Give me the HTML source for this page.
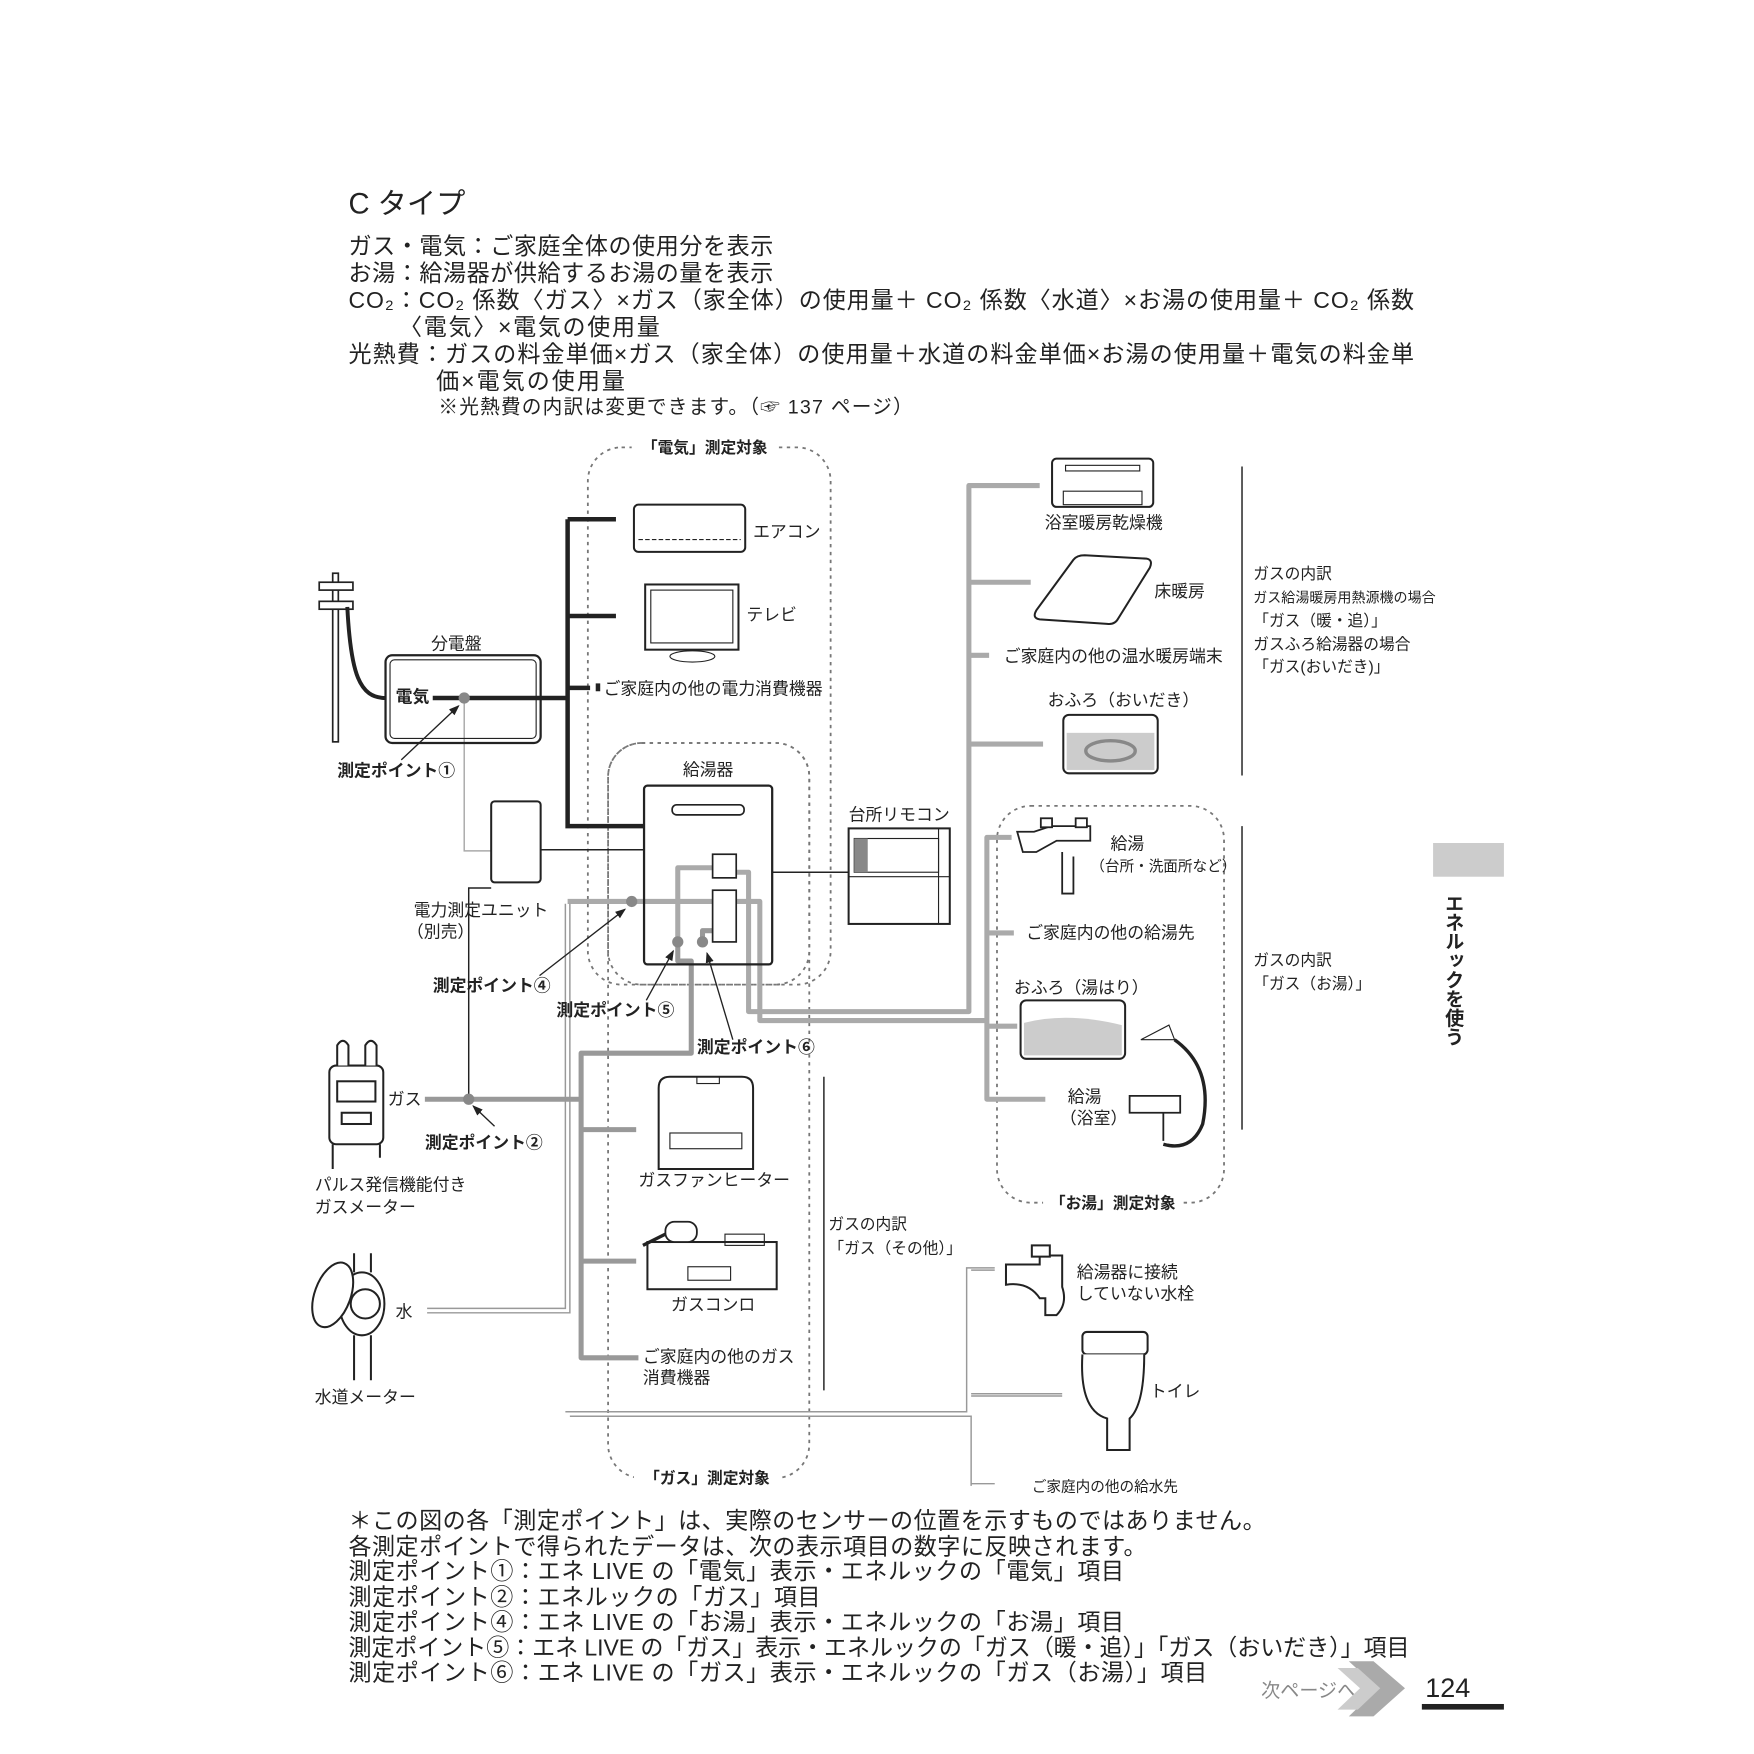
<!DOCTYPE html>
<html><head><meta charset="utf-8"><style>
html,body{margin:0;padding:0;background:#fff;}
svg{display:block;}
text{font-family:"Liberation Sans","Noto Sans CJK JP",sans-serif;fill:#222;}
.b{font-weight:bold;}
</style></head><body>
<svg width="1754" height="1754" viewBox="0 0 1560.5 1560.5" xmlns="http://www.w3.org/2000/svg">
<rect width="1561" height="1561" fill="#fff"/>
<!-- header text -->
<text x="310" y="190" font-size="26">C タイプ</text>
<g font-size="20.5">
<text x="310" y="226" textLength="378">ガス・電気：ご家庭全体の使用分を表示</text>
<text x="310" y="250" textLength="378">お湯：給湯器が供給するお湯の量を表示</text>
<text x="310" y="274" textLength="948">CO₂：CO₂ 係数〈ガス〉×ガス（家全体）の使用量＋ CO₂ 係数〈水道〉×お湯の使用量＋ CO₂ 係数</text>
<text x="355" y="298" textLength="232">〈電気〉×電気の使用量</text>
<text x="310" y="322" textLength="948">光熱費：ガスの料金単価×ガス（家全体）の使用量＋水道の料金単価×お湯の使用量＋電気の料金単</text>
<text x="388" y="346" textLength="168">価×電気の使用量</text>
</g>
<text x="390" y="368" font-size="17.5" textLength="422">※光熱費の内訳は変更できます。（☞ 137 ページ）</text>

<!-- dashed regions -->
<g fill="none" stroke="#777" stroke-width="1.6" stroke-dasharray="3,4">
<rect x="523" y="398" width="216" height="478" rx="30"/>
<rect x="541" y="661" width="179" height="654" rx="30"/>
<rect x="541" y="661" width="179" height="215" rx="30"/>
<rect x="887" y="717" width="202" height="353" rx="30"/>
</g>
<rect x="562" y="388" width="130" height="20" fill="#fff"/>
<text x="627" y="403" font-size="14" class="b" text-anchor="middle">「電気」測定対象</text>
<rect x="564" y="1305" width="130" height="20" fill="#fff"/>
<text x="629" y="1320" font-size="14" class="b" text-anchor="middle">「ガス」測定対象</text>
<rect x="928" y="1060" width="124" height="20" fill="#fff"/>
<text x="990" y="1075" font-size="14" class="b" text-anchor="middle">「お湯」測定対象</text>

<!-- gray pipes -->
<g fill="none" stroke="#aaa" stroke-width="4.5" stroke-linejoin="round">
<!-- heating -->
<path d="M925 432 H862 V900 H666 V776 H655"/>
<path d="M862 518 H917 M862 583 H880 M862 662 H928"/>
<!-- hot water -->
<path d="M900 745 H878 V978 H930 M878 830 H902 M878 913 H905"/>
<path d="M878 908 H676 V802 H655"/>
<path d="M505 802 H634"/>
<path d="M634 772 H603 V838"/>
</g>
<!-- gas pipes darker gray -->
<g fill="none" stroke="#999" stroke-width="4.5" stroke-linejoin="round">
<path d="M603 838 V855 H615 V937 H517 V1208 H568"/>
<path d="M625 838 V828 H634"/>
<path d="M517 1005 H566 M517 1122 H566"/>
<path d="M378 978 H517"/>
</g>
<!-- water -->
<g fill="none" stroke="#999" stroke-width="1.3">
<path d="M380 1164 H503 V804 M380 1168 H507 V804"/>
<path d="M503 1256 H860 V1128 H885 M507 1260 H864 V1320 H885 M864 1260 V1322"/>
<path d="M864 1130 H885 M864 1240 H945 M864 1242 H945"/>
</g>
<!-- thin black wires -->
<g fill="none" stroke="#222" stroke-width="1.3">
<path d="M481 756 H573"/>
<path d="M687 776 H755"/>
<path d="M437 790 H417 V978"/>
</g>
<path d="M413 621 V757 H437" fill="none" stroke="#aaa" stroke-width="1.3"/>
<!-- black electric -->
<g fill="none" stroke="#222" stroke-width="4">
<path d="M385 621 H505 M505 462 V735 H573 M505 462 H548 M505 548 H548 M505 612 H525"/>
</g>
<rect x="530" y="608" width="4" height="7" fill="#222"/>

<!-- pole -->
<g stroke="#222" fill="none" stroke-width="1.5">
<rect x="296" y="510" width="5" height="150" fill="#fff"/>
<rect x="284" y="518" width="30" height="7" fill="#fff"/><rect x="284" y="535" width="30" height="7" fill="#fff"/>
<path d="M309 540 C312 600 320 621 343 621" stroke-width="3.5"/>
</g>
<!-- 分電盤 -->
<rect x="343" y="583" width="138" height="78" rx="6" fill="none" stroke="#222" stroke-width="2"/>
<rect x="347" y="587" width="130" height="70" rx="4" fill="none" stroke="#222" stroke-width="1"/>
<text x="406" y="578" font-size="15" text-anchor="middle">分電盤</text>
<rect x="350" y="612" width="34" height="18" fill="#fff"/>
<text x="352" y="625" font-size="15" class="b">電気</text>
<circle cx="413" cy="621" r="5" fill="#888"/>
<!-- unit -->
<rect x="437" y="713" width="44" height="72" rx="3" fill="#fff" stroke="#222" stroke-width="1.8"/>
<text x="368" y="815" font-size="15">電力測定ユニット</text>
<text x="362" y="834" font-size="15">（別売）</text>

<!-- arrows -->
<defs><marker id="ah" markerWidth="8" markerHeight="8" refX="7" refY="4" orient="auto"><path d="M0 1 L8 4 L0 7Z" fill="#222"/></marker></defs>
<g stroke="#222" stroke-width="1.2" marker-end="url(#ah)">
<line x1="357" y1="676" x2="408" y2="628"/>
<line x1="480" y1="868" x2="556" y2="809"/>
<line x1="575" y1="890" x2="599" y2="846"/>
<line x1="652" y1="925" x2="629" y2="848"/>
<line x1="440" y1="1002" x2="421" y2="984"/>
</g>
<g font-size="15" class="b">
<text x="300" y="691">測定ポイント①</text>
<text x="385" y="882">測定ポイント④</text>
<text x="495" y="904">測定ポイント⑤</text>
<text x="620" y="937">測定ポイント⑥</text>
<text x="378" y="1022">測定ポイント②</text>
</g>
<circle cx="417" cy="978" r="5" fill="#888"/>
<circle cx="562" cy="802" r="5" fill="#888"/>
<circle cx="603" cy="838" r="5" fill="#888"/>
<circle cx="625" cy="838" r="5" fill="#888"/>

<!-- 給湯器 -->
<text x="630" y="690" font-size="15" text-anchor="middle">給湯器</text>
<rect x="573" y="699" width="114" height="159" rx="3" fill="none" stroke="#222" stroke-width="2"/>
<rect x="598" y="716" width="64" height="9" rx="4" fill="none" stroke="#222" stroke-width="1.5"/>
<rect x="634" y="760" width="21" height="21" fill="#fff" stroke="#222" stroke-width="1.5"/>
<rect x="634" y="792" width="21" height="46" fill="#fff" stroke="#222" stroke-width="1.5"/>

<!-- remote -->
<text x="755" y="730" font-size="15">台所リモコン</text>
<rect x="755" y="737" width="90" height="85" fill="#fff" stroke="#222" stroke-width="1.8"/>
<rect x="760" y="746" width="75" height="30" fill="none" stroke="#222" stroke-width="1"/>
<rect x="760" y="746" width="12" height="30" fill="#888"/>
<line x1="755" y1="780" x2="845" y2="780" stroke="#222"/>
<line x1="835" y1="737" x2="835" y2="822" stroke="#222"/>

<!-- aircon -->
<rect x="564" y="449" width="99" height="42" rx="4" fill="#fff" stroke="#222" stroke-width="1.8"/>
<line x1="568" y1="480" x2="659" y2="480" stroke="#222" stroke-dasharray="4,2"/>
<text x="670" y="478" font-size="15">エアコン</text>
<!-- TV -->
<rect x="574" y="520" width="83" height="58" fill="#fff" stroke="#222" stroke-width="1.8"/>
<rect x="579" y="525" width="73" height="47" fill="none" stroke="#222"/>
<ellipse cx="616" cy="584" rx="20" ry="5" fill="none" stroke="#222"/>
<text x="664" y="552" font-size="15">テレビ</text>
<text x="537" y="618" font-size="15">ご家庭内の他の電力消費機器</text>

<!-- right heating -->
<rect x="936" y="408" width="90" height="43" rx="4" fill="#fff" stroke="#222" stroke-width="1.8"/>
<rect x="948" y="414" width="66" height="5" fill="none" stroke="#222"/>
<rect x="946" y="437" width="70" height="12" fill="none" stroke="#222"/>
<text x="982" y="470" font-size="15" text-anchor="middle">浴室暖房乾燥機</text>
<path d="M965 494 L1020 497 Q1026 498 1023 505 L995 550 Q992 556 985 555 L925 551 Q918 550 922 543 L955 498 Q958 494 965 494Z" fill="#fff" stroke="#222" stroke-width="1.8"/>
<text x="1027" y="531" font-size="15">床暖房</text>
<text x="893" y="589" font-size="15">ご家庭内の他の温水暖房端末</text>
<text x="932" y="628" font-size="15">おふろ（おいだき）</text>
<rect x="946" y="636" width="84" height="52" rx="5" fill="#fff" stroke="#222" stroke-width="1.8"/>
<rect x="949" y="652" width="78" height="33" fill="#ccc"/>
<ellipse cx="988" cy="668" rx="22" ry="9" fill="none" stroke="#888" stroke-width="3"/>
<line x1="1105" y1="415" x2="1105" y2="690" stroke="#222" stroke-width="1.3"/>
<g font-size="14">
<text x="1115" y="515">ガスの内訳</text>
<text x="1115" y="536" font-size="12.5">ガス給湯暖房用熱源機の場合</text>
<text x="1115" y="557">「ガス（暖・追）」</text>
<text x="1115" y="578">ガスふろ給湯器の場合</text>
<text x="1115" y="598">「ガス(おいだき)」</text>
</g>
<!-- hot water right -->
<g fill="none" stroke="#222" stroke-width="1.6">
<path d="M905 740 H920 L935 735 H970 V748 H940 L922 758 H910Z" fill="#fff"/>
<rect x="926" y="728" width="10" height="8" fill="#fff"/><rect x="957" y="728" width="10" height="8" fill="#fff"/>
<path d="M945 758 V795 H955 V762"/>
</g>
<text x="988" y="756" font-size="15">給湯</text>
<text x="970" y="775" font-size="13">（台所・洗面所など）</text>
<text x="913" y="835" font-size="15">ご家庭内の他の給湯先</text>
<text x="902" y="884" font-size="15">おふろ（湯はり）</text>
<rect x="908" y="890" width="93" height="52" rx="5" fill="#fff" stroke="#222" stroke-width="1.8"/>
<path d="M911 910 Q950 900 998 912 V939 H911Z" fill="#ccc"/>
<path d="M1005 975 H1050 V990 H1005Z M1035 990 V1015" fill="#fff" stroke="#222" stroke-width="1.6"/>
<path d="M1045 925 Q1080 950 1070 1000 Q1060 1025 1035 1018" fill="none" stroke="#222" stroke-width="3"/>
<path d="M1015 925 L1040 912 L1045 925Z" fill="#fff" stroke="#222"/>
<text x="950" y="981" font-size="15">給湯</text>
<text x="943" y="1000" font-size="15">（浴室）</text>
<line x1="1105" y1="735" x2="1105" y2="1005" stroke="#222" stroke-width="1.3"/>
<text x="1115" y="859" font-size="14">ガスの内訳</text>
<text x="1115" y="880" font-size="14">「ガス（お湯）」</text>

<!-- gas appliances -->
<path d="M586 968 Q586 958 596 958 H660 Q670 958 670 968 V1040 H586Z" fill="#fff" stroke="#222" stroke-width="1.8"/>
<rect x="620" y="958" width="20" height="6" fill="none" stroke="#222"/>
<rect x="596" y="1008" width="64" height="14" fill="none" stroke="#222"/>
<text x="568" y="1055" font-size="15">ガスファンヒーター</text>
<rect x="576" y="1105" width="115" height="42" fill="#fff" stroke="#222" stroke-width="1.8"/>
<rect x="612" y="1127" width="38" height="12" fill="none" stroke="#222"/>
<rect x="592" y="1087" width="28" height="18" rx="8" fill="#fff" stroke="#222" stroke-width="1.6"/>
<line x1="572" y1="1108" x2="592" y2="1098" stroke="#222" stroke-width="3"/>
<rect x="645" y="1098" width="35" height="10" fill="none" stroke="#222"/>
<text x="597" y="1166" font-size="15">ガスコンロ</text>
<text x="572" y="1212" font-size="15">ご家庭内の他のガス</text>
<text x="572" y="1231" font-size="15">消費機器</text>
<line x1="733" y1="958" x2="733" y2="1237" stroke="#222" stroke-width="1.3"/>
<text x="737" y="1094" font-size="14">ガスの内訳</text>
<text x="737" y="1115" font-size="14">「ガス（その他）」</text>

<!-- meters left -->
<g fill="#fff" stroke="#222" stroke-width="1.8">
<rect x="293" y="948" width="48" height="70" rx="6"/>
<rect x="300" y="962" width="34" height="18"/>
<rect x="304" y="990" width="26" height="10"/>
<path d="M300 948 V930 Q305 922 310 930 V948 M325 948 V930 Q330 922 335 930 V948"/>
<path d="M296 1018 V1040 M338 1018 V1030"/>
<ellipse cx="322" cy="1160" rx="20" ry="28"/>
<circle cx="325" cy="1160" r="13"/>
<path d="M315 1115 V1132 M330 1115 V1132 M315 1188 V1228 M330 1188 V1228"/>
<ellipse cx="296" cy="1152" rx="16" ry="30" transform="rotate(20 296 1152)"/>
</g>
<text x="345" y="983" font-size="15">ガス</text>
<text x="280" y="1059" font-size="15">パルス発信機能付き</text>
<text x="280" y="1079" font-size="15">ガスメーター</text>
<text x="352" y="1172" font-size="15">水</text>
<text x="280" y="1248" font-size="15">水道メーター</text>

<!-- water right -->
<g fill="#fff" stroke="#222" stroke-width="1.8">
<path d="M895 1125 H925 V1117 H945 V1145 Q950 1160 940 1170 H930 V1155 H925 Q915 1140 895 1143Z"/>
<rect x="918" y="1108" width="16" height="10"/>
<rect x="963" y="1185" width="58" height="20" rx="4"/>
<path d="M963 1205 Q960 1255 985 1262 V1290 H1005 V1262 Q1018 1250 1018 1205"/>
</g>
<text x="958" y="1137" font-size="15">給湯器に接続</text>
<text x="958" y="1156" font-size="15">していない水栓</text>
<text x="1023" y="1243" font-size="15">トイレ</text>
<text x="918" y="1327" font-size="13">ご家庭内の他の給水先</text>

<!-- footer text -->
<g font-size="20.5">
<text x="310" y="1360" textLength="816">＊この図の各「測定ポイント」は、実際のセンサーの位置を示すものではありません。</text>
<text x="310" y="1383" textLength="710">各測定ポイントで得られたデータは、次の表示項目の数字に反映されます。</text>
<text x="310" y="1405" textLength="690">測定ポイント①：エネ LIVE の「電気」表示・エネルックの「電気」項目</text>
<text x="310" y="1428" textLength="420">測定ポイント②：エネルックの「ガス」項目</text>
<text x="310" y="1450" textLength="690">測定ポイント④：エネ LIVE の「お湯」表示・エネルックの「お湯」項目</text>
<text x="310" y="1473" textLength="944">測定ポイント⑤：エネ LIVE の「ガス」表示・エネルックの「ガス（暖・追）」「ガス（おいだき）」項目</text>
<text x="310" y="1495" textLength="764">測定ポイント⑥：エネ LIVE の「ガス」表示・エネルックの「ガス（お湯）」項目</text>
</g>
<text x="1122" y="1510" font-size="17" fill="#888" style="fill:#888">次ページへ</text>
<path d="M1200 1478 L1222 1478 L1250 1502 L1222 1527 L1200 1527 L1226 1502Z" fill="#aaa"/>
<path d="M1190 1484 L1208 1484 L1228 1502 L1208 1521 L1190 1521 L1210 1502Z" fill="#ccc"/>
<text x="1268" y="1510" font-size="24">124</text>
<rect x="1265" y="1516" width="73" height="5" fill="#222"/>
<!-- side tab -->
<rect x="1275" y="750" width="63" height="30" fill="#ccc"/>
<text x="1292" y="795" font-size="17" class="b" style="writing-mode:tb" writing-mode="tb">エネルックを使う</text>
</svg>
</body></html>
